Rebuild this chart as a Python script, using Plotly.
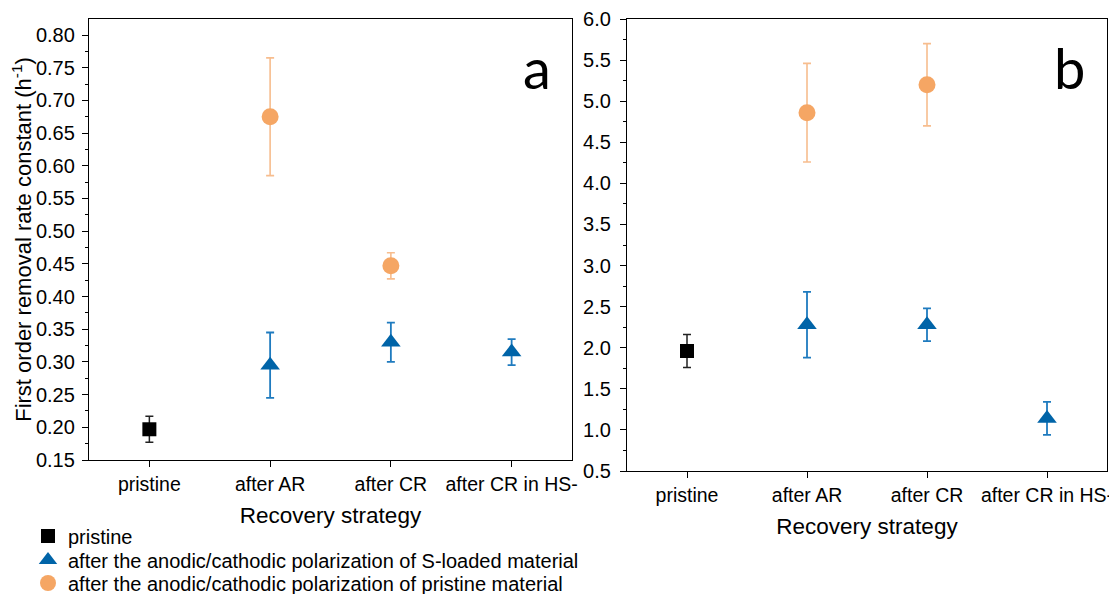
import plotly.graph_objects as go

# ---------------- data ----------------
categories = ["pristine", "after AR", "after CR", "after CR in HS-"]

series_names = [
    "pristine",
    "after the anodic/cathodic polarization of S-loaded material",
    "after the anodic/cathodic polarization of pristine material",
]

# Panel a
a_pristine_cats = ["pristine"]
a_pristine_vals = [0.197]
a_pristine_err = [0.020]

a_sloaded_cats = ["after AR", "after CR", "after CR in HS-"]
a_sloaded_vals = [0.295, 0.330, 0.315]
a_sloaded_err = [0.050, 0.030, 0.020]

a_pristmat_cats = ["after AR", "after CR"]
a_pristmat_vals = [0.675, 0.447]
a_pristmat_err = [0.090, 0.020]

# Panel b
b_pristine_cats = ["pristine"]
b_pristine_vals = [1.96]
b_pristine_err = [0.20]

b_sloaded_cats = ["after AR", "after CR", "after CR in HS-"]
b_sloaded_vals = [2.28, 2.28, 1.14]
b_sloaded_err = [0.40, 0.20, 0.20]

b_pristmat_cats = ["after AR", "after CR"]
b_pristmat_vals = [4.86, 5.20]
b_pristmat_err = [0.60, 0.50]

# ---------------- styles ----------------
BLACK = "#000000"
BLUE = "#0064A8"
BLUE_ERR = "#1F7BBF"
ORANGE = "#F5A664"
ORANGE_ERR = "#F7BD8E"
FONT = "Liberation Sans, Arial, sans-serif"

styles = [
    dict(symbol="square", size=14, color=BLACK, err="#222222", errw=1.5),
    dict(symbol="triangle-up", size=17, color=BLUE, err=BLUE_ERR, errw=1.8),
    dict(symbol="circle", size=17, color=ORANGE, err=ORANGE_ERR, errw=1.6),
]

# page body has an 8px margin: figure is drawn starting at (8, 8)
OX, OY = 8, 8
W, H = 1109, 586


def px_x(X):
    return (X - OX) / W


def px_y(Y):
    return 1 - (Y - OY) / H


def idx(cats):
    return [categories.index(c) for c in cats]


fig = go.Figure()

panel_a = [
    (a_pristine_cats, a_pristine_vals, a_pristine_err),
    (a_sloaded_cats, a_sloaded_vals, a_sloaded_err),
    (a_pristmat_cats, a_pristmat_vals, a_pristmat_err),
]
panel_b = [
    (b_pristine_cats, b_pristine_vals, b_pristine_err),
    (b_sloaded_cats, b_sloaded_vals, b_sloaded_err),
    (b_pristmat_cats, b_pristmat_vals, b_pristmat_err),
]
legend_ids = ["legend", "legend2", "legend3"]

for (cats, vals, errs), st, name, lg in zip(panel_a, styles, series_names, legend_ids):
    fig.add_trace(go.Scatter(
        x=idx(cats), y=vals, mode="markers", name=name,
        marker=dict(symbol=st["symbol"], size=st["size"], color=st["color"],
                    line=dict(width=0)),
        error_y=dict(type="data", array=errs, visible=True, color=st["err"],
                     thickness=st["errw"], width=4),
        xaxis="x", yaxis="y", showlegend=True, legend=lg,
    ))

for (cats, vals, errs), st, name in zip(panel_b, styles, series_names):
    fig.add_trace(go.Scatter(
        x=idx(cats), y=vals, mode="markers", name=name,
        marker=dict(symbol=st["symbol"], size=st["size"], color=st["color"],
                    line=dict(width=0)),
        error_y=dict(type="data", array=errs, visible=True, color=st["err"],
                     thickness=st["errw"], width=4),
        xaxis="x2", yaxis="y2", showlegend=False,
    ))

axis_common = dict(
    showline=True, linecolor="#000000", linewidth=1.3, mirror=True,
    ticks="outside", ticklen=6, tickwidth=1.3, tickcolor="#000000",
    showgrid=False, zeroline=False, automargin=False,
    tickfont=dict(family=FONT, size=20, color="#000000"),
)

xa = dict(axis_common,
          tickmode="array", tickvals=list(range(len(categories))), ticktext=categories,
          tickfont=dict(family=FONT, size=19.5, color="#000000"),
          title=dict(text="Recovery strategy", font=dict(family=FONT, size=22.5, color="#000000"),
                     standoff=13))

legend_rows_y = [536, 560, 583]
legend_common = dict(xanchor="left", yanchor="middle",
                     font=dict(family=FONT, size=20, color="#000000"),
                     bgcolor="rgba(0,0,0,0)", itemsizing="trace")

fig.update_layout(
    width=W, height=H,
    margin=dict(l=0, r=0, t=0, b=0, autoexpand=False),
    paper_bgcolor="white", plot_bgcolor="white",
    font=dict(family=FONT, color="#000000"),
    xaxis=dict(xa, domain=[px_x(89), px_x(572)], range=[-0.5, 3.5], anchor="y"),
    yaxis=dict(axis_common, domain=[px_y(460), px_y(19)], range=[0.15, 0.8245],
               tickmode="linear", tick0=0.15, dtick=0.05, tickformat=".2f", anchor="x",
               ticklabelstandoff=3,
               minor=dict(ticks="outside", ticklen=3, tickcolor="#000000", dtick=0.025,
                          tick0=0.15, showgrid=False),
               title=dict(text="First order removal rate constant (h<sup>-1</sup>)",
                          font=dict(family=FONT, size=22, color="#000000"), standoff=9)),
    xaxis2=dict(xa, domain=[px_x(627), px_x(1107)], range=[-0.5, 3.5], anchor="y2"),
    yaxis2=dict(axis_common, domain=[px_y(471), px_y(19)], range=[0.5, 6.0],
                tickmode="linear", tick0=0.5, dtick=0.5, tickformat=".1f", anchor="x2",
                ticklabelstandoff=5,
                minor=dict(ticks="outside", ticklen=3, tickcolor="#000000", dtick=0.25,
                           tick0=0.5, showgrid=False)),
    legend=dict(legend_common, x=px_x(28), y=px_y(legend_rows_y[0])),
    legend2=dict(legend_common, x=px_x(28), y=px_y(legend_rows_y[1])),
    legend3=dict(legend_common, x=px_x(28), y=px_y(legend_rows_y[2])),
    annotations=[
        dict(text="a", x=px_x(537), y=px_y(68), xref="paper", yref="paper",
             xanchor="center", yanchor="middle",
             showarrow=False, font=dict(family="Lato, Open Sans, sans-serif", size=56,
                                        color="#000000")),
        dict(text="b", x=px_x(1069), y=px_y(68), xref="paper", yref="paper",
             xanchor="center", yanchor="middle",
             showarrow=False, font=dict(family="Lato, Open Sans, sans-serif", size=56,
                                        color="#000000")),
    ],
)

fig.write_html("out.html")
